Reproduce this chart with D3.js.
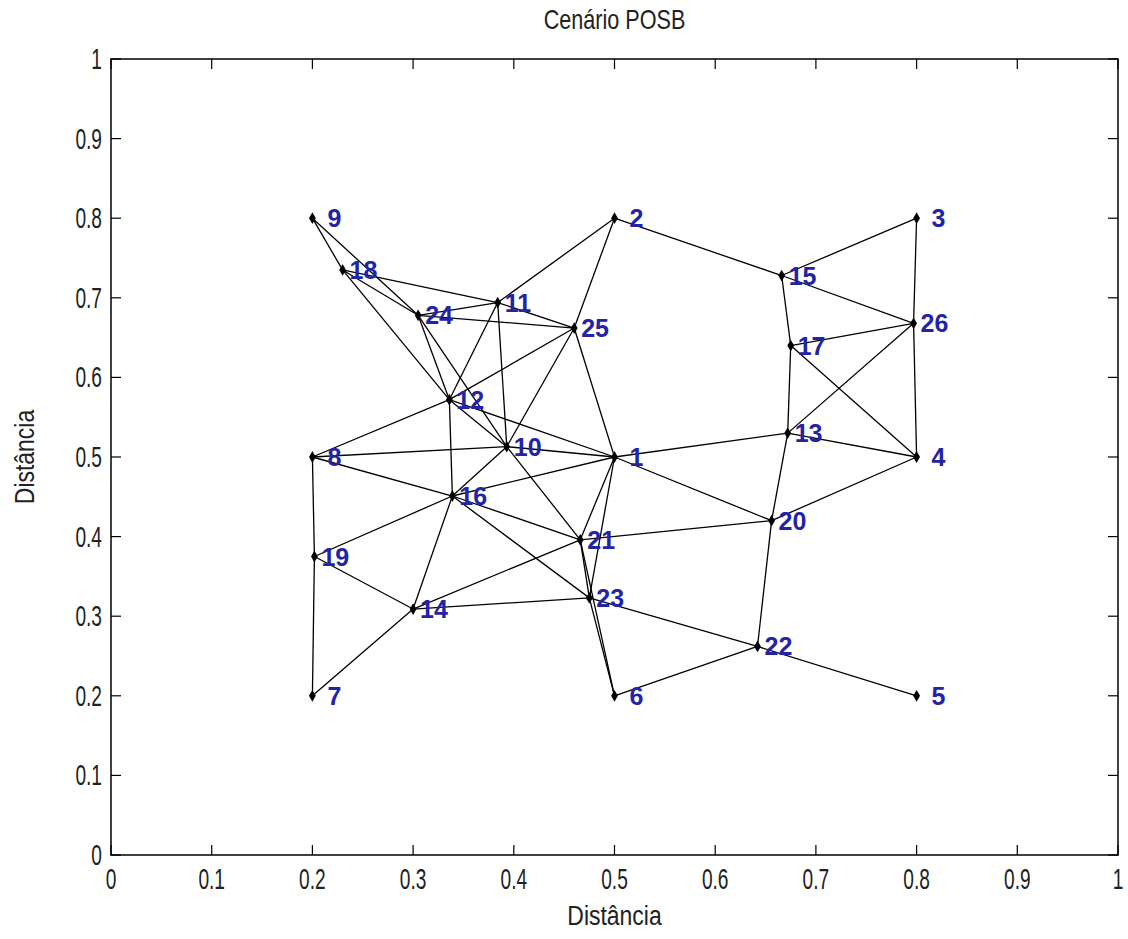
<!DOCTYPE html>
<html>
<head>
<meta charset="utf-8">
<script src="https://cdn.jsdelivr.net/npm/d3@7"></script>
<style>
  body { margin: 0; background: #fff; }
  svg { display: block; }
  .lbl { font-family: "Liberation Sans", Arial, sans-serif; fill: #222; }
  .node-label { font-family: "Liberation Sans", Arial, sans-serif; font-size: 25px; font-weight: bold; fill: #2323a8; }
</style>
</head>
<body>
<svg id="chart" width="1128" height="939"></svg>
<script>
// node ids, positions
var nodeIds = [1,2,3,4,5,6,7,8,9,10,11,12,13,14,15,16,17,18,19,20,21,22,23,24,25,26];
var nodeX = [0.5,0.5,0.8,0.8,0.8,0.5,0.2,0.2,0.2,0.393,0.384,0.336,0.672,0.300,0.666,0.339,0.675,0.230,0.202,0.656,0.466,0.642,0.475,0.305,0.460,0.797];
var nodeY = [0.5,0.8,0.8,0.5,0.2,0.2,0.2,0.5,0.8,0.513,0.694,0.572,0.530,0.309,0.728,0.451,0.640,0.735,0.375,0.420,0.396,0.262,0.323,0.678,0.662,0.668];

// links (pairs of node ids)
var links = [
  [9,18],[9,24],[18,24],[18,11],[18,12],[24,11],[24,25],[24,12],[24,10],
  [11,25],[11,2],[11,12],[11,10],[25,2],[25,12],[25,10],[25,1],
  [12,8],[12,16],[12,10],[12,1],[10,8],[10,1],[10,16],[10,21],
  [8,16],[8,19],[19,7],[19,16],[19,14],[7,14],[14,16],[14,21],[14,23],
  [16,1],[16,21],[16,23],[21,1],[21,20],[21,23],[21,6],[23,1],[23,6],
  [23,22],[22,6],[22,5],[22,20],[20,1],[20,13],[20,4],[1,13],
  [2,15],[15,3],[15,26],[15,17],[3,26],[26,17],[26,4],[26,13],[17,13],[17,4],[13,4]
];

var xTicks = [0,0.1,0.2,0.3,0.4,0.5,0.6,0.7,0.8,0.9,1];
var yTicks = [0,0.1,0.2,0.3,0.4,0.5,0.6,0.7,0.8,0.9,1];

(function() {
  var svg = d3.select("#chart");
  var mLeft = 111, mRight = 1118, mTop = 59, mBottom = 855;

  var x = d3.scaleLinear().domain([0, 1]).range([mLeft, mRight]);
  var y = d3.scaleLinear().domain([0, 1]).range([mBottom, mTop]);

  var nodes = nodeIds.map(function(id, i) {
    return { id: id, x: nodeX[i], y: nodeY[i] };
  });
  var byId = {};
  nodes.forEach(function(n) { byId[n.id] = n; });

  // narrow-looking text: draw then squeeze horizontally
  function label(px, py, txt, size, sx, anchor, rot) {
    var t = "translate(" + px + "," + py + ")" + (rot ? " rotate(" + rot + ")" : "") + " scale(" + sx + ",1)";
    return svg.append("text").attr("class", "lbl")
      .attr("transform", t)
      .attr("text-anchor", anchor)
      .style("font-size", size + "px")
      .text(txt);
  }

  // axes box
  svg.append("rect")
    .attr("x", mLeft).attr("y", mTop)
    .attr("width", mRight - mLeft).attr("height", mBottom - mTop)
    .attr("fill", "none").attr("stroke", "#000").attr("stroke-width", 1.5);

  var tl = 10;
  var tg = svg.append("g").attr("stroke", "#000").attr("stroke-width", 1.2);
  xTicks.forEach(function(t) {
    tg.append("line").attr("x1", x(t)).attr("x2", x(t)).attr("y1", mBottom).attr("y2", mBottom - tl);
    tg.append("line").attr("x1", x(t)).attr("x2", x(t)).attr("y1", mTop).attr("y2", mTop + tl);
  });
  yTicks.forEach(function(t) {
    tg.append("line").attr("x1", mLeft).attr("x2", mLeft + tl).attr("y1", y(t)).attr("y2", y(t));
    tg.append("line").attr("x1", mRight).attr("x2", mRight - tl).attr("y1", y(t)).attr("y2", y(t));
  });

  var fmt = d3.format("~g");
  xTicks.forEach(function(t) { label(x(t), mBottom + 34, fmt(t), 29, 0.66, "middle"); });
  yTicks.forEach(function(t) { label(mLeft - 9, y(t) + 10, fmt(t), 29, 0.66, "end"); });

  // titles
  label((mLeft + mRight) / 2, 29, "Cenário POSB", 27, 0.8, "middle");
  label((mLeft + mRight) / 2, 925, "Distância", 27, 0.85, "middle");
  label(34, (mTop + mBottom) / 2, "Distância", 27, 0.85, "middle", -90);

  // links
  svg.append("g").selectAll("line")
    .data(links).enter().append("line")
    .attr("x1", function(d) { return x(byId[d[0]].x); })
    .attr("y1", function(d) { return y(byId[d[0]].y); })
    .attr("x2", function(d) { return x(byId[d[1]].x); })
    .attr("y2", function(d) { return y(byId[d[1]].y); })
    .attr("stroke", "#000").attr("stroke-width", 1.3);

  // nodes
  svg.append("g").selectAll("path")
    .data(nodes).enter().append("path")
    .attr("d", d3.symbol().type(d3.symbolDiamond).size(40))
    .attr("transform", function(d) { return "translate(" + x(d.x) + "," + y(d.y) + ")"; })
    .attr("fill", "#000");

  svg.append("g").selectAll("text")
    .data(nodes).enter().append("text")
    .attr("class", "node-label")
    .attr("x", function(d) { return x(d.x) + (d.id < 10 ? 15 : 7); })
    .attr("y", function(d) { return y(d.y) + 9; })
    .text(function(d) { return d.id; });
})();
</script>
</body>
</html>
